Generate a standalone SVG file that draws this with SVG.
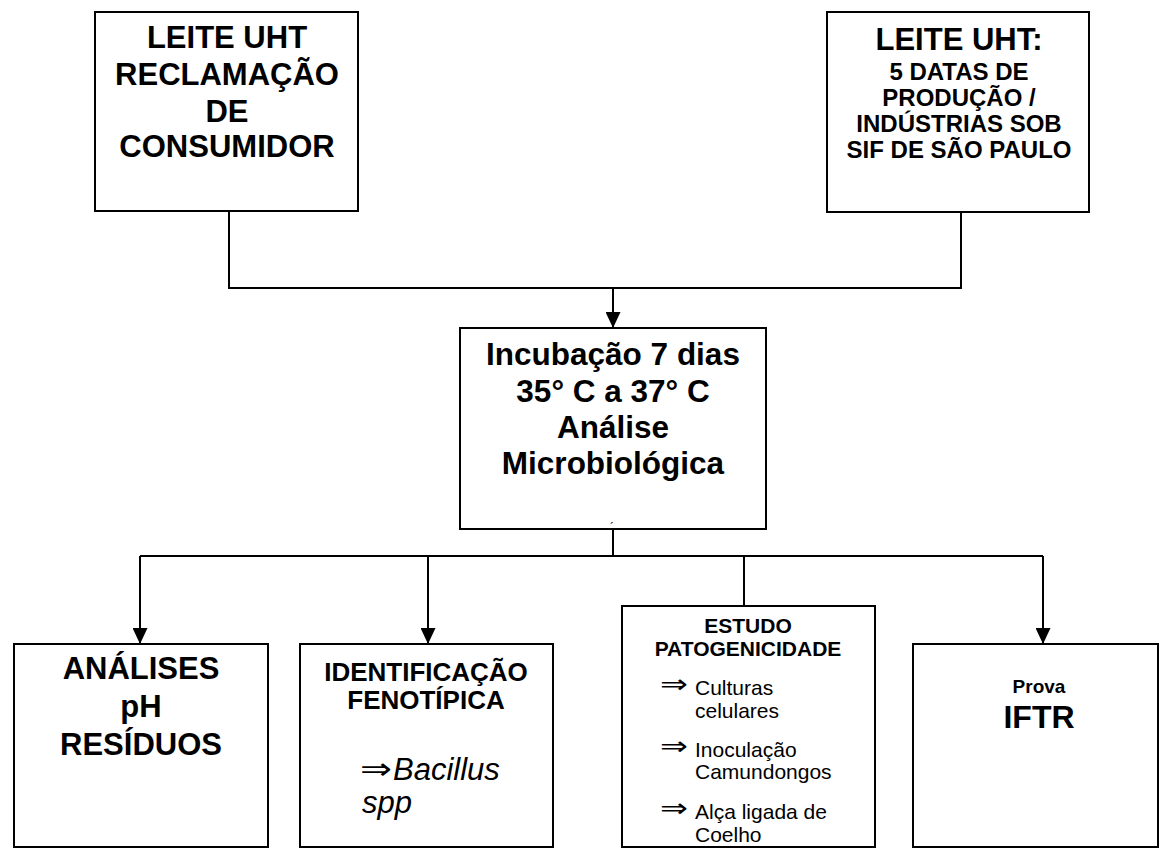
<svg xmlns="http://www.w3.org/2000/svg" width="1160" height="848" viewBox="0 0 1160 848">
<style>
.box{fill:#fff;stroke:#000;stroke-width:2}
.ln{fill:none;stroke:#000;stroke-width:2}
.b{font-family:"Liberation Sans",Arial,sans-serif;font-weight:bold;fill:#000;text-anchor:middle}
.r{font-family:"Liberation Sans",Arial,sans-serif;fill:#000}
.i{font-family:"Liberation Sans",Arial,sans-serif;font-style:italic;fill:#000}
.sym{font-family:"DejaVu Sans",sans-serif;fill:#000}
</style>
<defs>
<marker id="ah" markerUnits="userSpaceOnUse" markerWidth="16" markerHeight="15" refX="16" refY="7.5" orient="auto">
<path d="M0,0 L16,7.5 L0,15 Z" fill="#000"/>
</marker>
</defs>
<g id="connectors">
<polyline class="ln" points="229,211 229,288 961,288 961,212"/>
<line class="ln" x1="613" y1="288" x2="613" y2="328" marker-end="url(#ah)"/>
<line class="ln" x1="613" y1="529" x2="613" y2="556"/>
<line class="ln" x1="140" y1="556" x2="1043" y2="556"/>
<line class="ln" x1="140" y1="556" x2="140" y2="644" marker-end="url(#ah)"/>
<line class="ln" x1="428" y1="556" x2="428" y2="644" marker-end="url(#ah)"/>
<line class="ln" x1="744" y1="556" x2="744" y2="606"/>
<line class="ln" x1="1043" y1="556" x2="1043" y2="644" marker-end="url(#ah)"/>
</g>
<g id="n_reclamacao">
<rect class="box" x="95" y="12" width="263" height="199"/>
<text class="b" font-size="31" x="227" y="48">LEITE UHT</text>
<text class="b" font-size="31" x="227" y="85">RECLAMAÇÃO</text>
<text class="b" font-size="31" x="227" y="122">DE</text>
<text class="b" font-size="31" x="227" y="157">CONSUMIDOR</text>
</g>
<g id="n_datas">
<rect class="box" x="827" y="12" width="262" height="200"/>
<text class="b" font-size="31" x="959" y="50">LEITE UHT:</text>
<text class="b" font-size="24" x="959" y="80">5 DATAS DE</text>
<text class="b" font-size="24" x="959" y="106">PRODUÇÃO /</text>
<text class="b" font-size="24" x="959" y="132">INDÚSTRIAS SOB</text>
<text class="b" font-size="24" x="959" y="158">SIF DE SÃO PAULO</text>
</g>
<g id="n_incubacao">
<rect class="box" x="460" y="328" width="306" height="201"/>
<text class="b" font-size="31.5" x="613" y="365">Incubação 7 dias</text>
<text class="b" font-size="31.5" x="613" y="402">35° C a 37° C</text>
<text class="b" font-size="31.5" x="613" y="438">Análise</text>
<text class="b" font-size="31.5" x="613" y="474">Microbiológica</text>
<text class="r" font-size="12" x="610" y="532">´</text>
</g>
<g id="n_analises">
<rect class="box" x="14" y="644" width="254" height="203"/>
<text class="b" font-size="31" x="141" y="679">ANÁLISES</text>
<text class="b" font-size="31" x="141" y="717">pH</text>
<text class="b" font-size="31" x="141" y="755">RESÍDUOS</text>
</g>
<g id="n_identificacao">
<rect class="box" x="300" y="644" width="253" height="203"/>
<text class="b" font-size="26" x="426" y="681">IDENTIFICAÇÃO</text>
<text class="b" font-size="26" x="426" y="709">FENOTÍPICA</text>
<text class="sym" font-size="30" x="360" y="779" textLength="32" lengthAdjust="spacingAndGlyphs">⇒</text>
<text class="i" font-size="31" x="393" y="780">Bacillus</text>
<text class="i" font-size="31" x="362" y="813">spp</text>
</g>
<g id="n_patogenicidade">
<rect class="box" x="622" y="606" width="253" height="241"/>
<text class="b" font-size="21" x="748" y="633">ESTUDO</text>
<text class="b" font-size="21" x="748" y="656">PATOGENICIDADE</text>
<text class="sym" font-size="26" x="660" y="693" textLength="28" lengthAdjust="spacingAndGlyphs">⇒</text>
<text class="r" font-size="21" x="695" y="695">Culturas</text>
<text class="r" font-size="21" x="695" y="718">celulares</text>
<text class="sym" font-size="26" x="660" y="755" textLength="28" lengthAdjust="spacingAndGlyphs">⇒</text>
<text class="r" font-size="21" x="695" y="757">Inoculação</text>
<text class="r" font-size="21" x="695" y="779">Camundongos</text>
<text class="sym" font-size="26" x="660" y="817" textLength="28" lengthAdjust="spacingAndGlyphs">⇒</text>
<text class="r" font-size="21" x="695" y="819">Alça ligada de</text>
<text class="r" font-size="21" x="695" y="842">Coelho</text>
</g>
<g id="n_iftr">
<rect class="box" x="913" y="644" width="245" height="203"/>
<text class="b" font-size="19" x="1039" y="693">Prova</text>
<text class="b" font-size="32" x="1039" y="728">IFTR</text>
</g>
</svg>
